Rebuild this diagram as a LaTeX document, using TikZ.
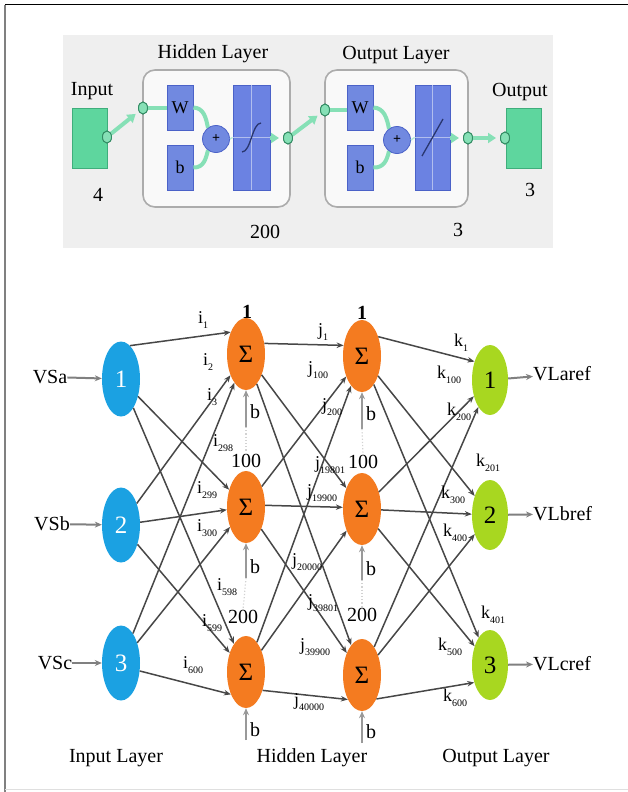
\documentclass[tikz,border=0pt]{standalone}
\usepackage{fontspec}
\setmainfont{Liberation Serif}
\usetikzlibrary{shapes.geometric,arrows.meta}
\definecolor{inblue}{HTML}{1BA1E2}
\definecolor{horange}{HTML}{F47B20}
\definecolor{ogreen}{HTML}{A8D720}
\definecolor{panelgrey}{HTML}{EFEFEF}
\definecolor{gfill}{HTML}{5ED69E}
\definecolor{gdark}{HTML}{3FAE7C}
\definecolor{gline}{HTML}{86E0B6}
\definecolor{bfill}{HTML}{7189E0}
\definecolor{bdark}{HTML}{4B62C8}
\definecolor{cgray}{HTML}{474747}
\newcommand{\fsz}[1]{\fontsize{#1}{#1}\selectfont}
\newcommand{\sbs}[2]{#1\raisebox{-0.55ex}{\fsz{10}#2}}
\begin{document}
\begin{tikzpicture}[x=1pt,y=-1pt,
 lbl/.style={font=\fsz{20}, inner sep=0},
 sl/.style={font=\fsz{18}, inner sep=0},
 inn/.style={ellipse, fill=inblue, minimum width=38pt, minimum height=75pt, inner sep=0, text=white, font=\fsz{25}},
 hid/.style={ellipse, fill=horange, minimum width=38pt, minimum height=72pt, inner sep=0, font=\fsz{25}},
 outn/.style={ellipse, fill=ogreen, minimum width=36pt, minimum height=70pt, inner sep=0, font=\fsz{25}},
 conn/.style={draw=cgray, line width=1.5pt, -{Stealth[length=7pt,width=5.5pt]}},
 feed/.style={draw=gray, line width=2pt, -{Stealth[length=7pt,width=6pt]}},
 bias/.style={draw=gray!80, line width=2pt, -{Stealth[length=7pt,width=6pt]}},
 dots/.style={draw=gray!35, line width=1.2pt, dotted},
 gbox/.style={draw=gdark, fill=gfill, line width=1pt, minimum width=35pt, minimum height=60pt, inner sep=0},
 bbox/.style={draw=bdark, fill=bfill, line width=0.8pt, minimum width=26pt, minimum height=45pt, inner sep=0, font=\fsz{18}},
 tbox/.style={draw=bdark, fill=bfill!95!blue, line width=0.8pt, minimum width=37pt, minimum height=105pt, inner sep=0},
 plusn/.style={circle, draw=bdark, fill=bfill, line width=0.8pt, minimum size=27pt, inner sep=0, font=\fsz{14}\bfseries},
 port/.style={ellipse, draw=gdark!80!black, fill=gline, line width=0.9pt, minimum width=9pt, minimum height=12pt, inner sep=0},
 gl/.style={draw=gline, line width=4pt},
 gla/.style={draw=gline, line width=4pt, -{Triangle[length=8pt,width=10pt]}, shorten >=4pt}
]
\useasboundingbox (0,0) rectangle (628,792);
% outer frame
\draw[gray, line width=1.5pt] (5,792) -- (5,5);
\draw[black, line width=1pt] (5,4.5) -- (628,4.5);
\draw[gray!25, line width=1pt] (5,789.5) -- (628,789.5);
% ---------- top panel ----------
\fill[panelgrey] (63,35) rectangle (553,248);
\draw[rounded corners=12pt, draw=gray!65, line width=1.6pt, fill=white!60!panelgrey] (143,70) rectangle (290,207);
\draw[rounded corners=12pt, draw=gray!65, line width=1.6pt, fill=white!60!panelgrey] (325,70) rectangle (468,207);
\node[lbl] (tin) at (92,91) {Input};
\node[lbl] (thl) at (213,54) {Hidden Layer};
\node[lbl] (tol) at (396,55) {Output Layer};
\node[lbl] (tout) at (520,92) {Output};
\node[lbl] (t4) at (98,195) {4};
\node[lbl] (t3a) at (530,190) {3};
\node[lbl] (t200) at (265,232) {200};
\node[lbl] (t3b) at (458,230) {3};
\node[gbox] (inbox) at (89.5,138) {};
\node[gbox] (outbox) at (523.5,138) {};
% hidden layer block
\node[bbox] (w1) at (180,107.5) {W};
\node[bbox] (b1) at (180,167.5) {b};
\node[tbox] (tf1) at (251.5,137.5) {};
\draw[bfill!55!white, line width=0.5pt] (tf1.west) -- (tf1.east) (tf1.north) -- (tf1.south);
\draw[bdark!55!black, line width=1.3pt] (242,152) .. controls (251,152) and (252,123) .. (261,123);
% output layer block
\node[bbox] (w2) at (360,107.5) {W};
\node[bbox] (b2) at (360,167.5) {b};
\node[tbox, minimum width=35pt] (tf2) at (432.5,137.5) {};
\draw[bfill!55!white, line width=0.5pt] (tf2.west) -- (tf2.east) (tf2.north) -- (tf2.south);
\draw[bdark!55!black, line width=1.3pt] (422,156) -- (443,119);
% green connectors
\coordinate (pc1) at (216,139);
\coordinate (pc2) at (397,140);
\draw[gl] (w1.east) .. controls (204,108) and (206,118) .. (208,128);
\draw[gl] (b1.east) .. controls (204,168) and (206,158) .. (208,150);
\draw[gl] (w2.east) .. controls (384,108) and (387,118) .. (389,129);
\draw[gl] (b2.east) .. controls (384,168) and (387,160) .. (389,151);
\node[plusn] (plus1) at (pc1) {+};
\node[plusn] (plus2) at (pc2) {+};
\draw[gline!60!white, line width=1.5pt] (plus1.east) -- (tf1.west);
\draw[gline!60!white, line width=1.5pt] (plus2.east) -- (tf2.west);
\node[port] (pin0) at (107,137) {};
\node[port] (phi) at (143,108) {};
\node[port] (pho) at (288,138) {};
\node[port] (poi) at (325,110) {};
\node[port] (poo) at (468,138) {};
\node[port] (pout) at (505,138) {};
\draw[gla] (pin0) -- (phi);
\draw[gl] (phi) -- (w1.west |- phi);
\draw[gla] (tf1.east |- pho) -- (pho);
\draw[gla] (pho) -- (poi);
\draw[gl] (poi) -- (w2.west |- poi);
\draw[gla] (tf2.east |- poo) -- (poo);
\draw[gla] (poo) -- (pout);
\node[port] at (107,137) {};
\node[port] at (143,108) {};
\node[port] at (288,138) {};
\node[port] at (325,110) {};
\node[port] at (468,138) {};
\node[port] at (505,138) {};
% ---------- bottom network ----------
\node[inn] (in1) at (121,379) {1};
\node[inn] (in2) at (121,525) {2};
\node[inn] (in3) at (121,663) {3};
\node[hid] (h1) at (246,354) {Σ};
\node[hid] (h2) at (246,507) {Σ};
\node[hid] (h3) at (246,672) {Σ};
\node[hid] (g1) at (362,356) {Σ};
\node[hid] (g2) at (362,509) {Σ};
\node[hid] (g3) at (362,675) {Σ};
\node[outn] (o1) at (490,380) {1};
\node[outn] (o2) at (490,515) {2};
\node[outn] (o3) at (490,665) {3};
% inputs / outputs
\node[lbl] (vsa) at (50,377) {VSa};
\node[lbl] (vsb) at (52,524) {VSb};
\node[lbl] (vsc) at (55,663) {VSc};
\node[lbl, anchor=west] (vla) at (533,374) {VLaref};
\node[lbl, anchor=west] (vlb) at (533,514) {VLbref};
\node[lbl, anchor=west] (vlc) at (533,664) {VLcref};
\draw[feed] (vsa) -- (in1);
\draw[feed] (vsb) -- (in2);
\draw[feed] (vsc) -- (in3);
\draw[feed] (o1) -- (vla);
\draw[feed] (o2) -- (vlb);
\draw[feed] (o3) -- (vlc);
% input -> hidden
\draw[conn] (in1.75) -- (h1.125);
\draw[conn] (in2) -- (h1);
\draw[conn] (in3) -- (h1);
\draw[conn] (in1) -- (h2);
\draw[conn] (in2) -- (h2);
\draw[conn] (in3) -- (h2);
\draw[conn] (in1) -- (h3);
\draw[conn] (in2) -- (h3);
\draw[conn] (in3.337) -- (h3.236);
% hidden -> hidden
\draw[conn] (h1.30) -- (g1.150);
\draw[conn] (h2) -- (g1);
\draw[conn] (h3) -- (g1);
\draw[conn] (h1) -- (g2);
\draw[conn] (h2.5) -- (g2.175);
\draw[conn] (h3) -- (g2);
\draw[conn] (h1) -- (g3);
\draw[conn] (h2) -- (g3);
\draw[conn] (h3.312) -- (g3.240);
% hidden -> output
\draw[conn] (g1.50) -- (o1.130);
\draw[conn] (g2) -- (o1);
\draw[conn] (g3) -- (o1);
\draw[conn] (g1) -- (o2);
\draw[conn] (g2) -- (o2);
\draw[conn] (g3) -- (o2);
\draw[conn] (g1) -- (o3);
\draw[conn] (g2) -- (o3);
\draw[conn] (g3.301) -- (o3.228);
% neuron index labels
\node[lbl, font=\fsz{20}\bfseries] (n1a) at (247,312) {1};
\node[lbl] (n100a) at (246,461) {100};
\node[lbl] (n200a) at (243,617) {200};
\node[lbl, font=\fsz{20}\bfseries] (n1b) at (362,313) {1};
\node[lbl] (n100b) at (363,462) {100};
\node[lbl] (n200b) at (362,615) {200};
% biases
\coordinate (bt1) at (246,427);
\coordinate (bt2) at (246,578);
\coordinate (bt3) at (246,740);
\coordinate (bt4) at (362,429);
\coordinate (bt5) at (362,580);
\coordinate (bt6) at (362,743);
\draw[bias] (bt1) -- (h1.south);
\draw[bias] (bt2) -- (h2.south);
\draw[bias] (bt3) -- (h3.south);
\draw[bias] (bt4) -- (g1.south);
\draw[bias] (bt5) -- (g2.south);
\draw[bias] (bt6) -- (g3.south);
\draw[dots] (bt1) -- (n100a.north);
\draw[dots] (bt2) -- (n200a.north);
\draw[dots] (bt4) -- (n100b.north);
\draw[dots] (bt5) -- (n200b.north);
\node[lbl] (bl1) at (255,412) {b};
\node[lbl] (bl2) at (255,567) {b};
\node[lbl] (bl3) at (255,730) {b};
\node[lbl] (bl4) at (371,414) {b};
\node[lbl] (bl5) at (371,569) {b};
\node[lbl] (bl6) at (371,732) {b};
% weight labels
\node[sl] (li1) at (203,320) {\sbs{i}{1}};
\node[sl] (li2) at (208,362) {\sbs{i}{2}};
\node[sl] (li3) at (212,397) {\sbs{i}{3}};
\node[sl] (li298) at (223,443) {\sbs{i}{298}};
\node[sl] (li299) at (207,490) {\sbs{i}{299}};
\node[sl] (li300) at (207,528) {\sbs{i}{300}};
\node[sl] (li598) at (227,587) {\sbs{i}{598}};
\node[sl] (li599) at (212,623) {\sbs{i}{599}};
\node[sl] (li600) at (193,665) {\sbs{i}{600}};
\node[sl] (lj1) at (323,332) {\sbs{j}{1}};
\node[sl] (lj100) at (318,370) {\sbs{j}{100}};
\node[sl] (lj200) at (332,407) {\sbs{j}{200}};
\node[sl] (lj19801) at (330,465) {\sbs{j}{19801}};
\node[sl] (lj19900) at (322,493) {\sbs{j}{19900}};
\node[sl] (lj20000) at (307,562) {\sbs{j}{20000}};
\node[sl] (lj39801) at (323,603) {\sbs{j}{39801}};
\node[sl] (lj39900) at (315,647) {\sbs{j}{39900}};
\node[sl] (lj40000) at (309,702) {\sbs{j}{40000}};
\node[sl] (lk1) at (461,343) {\sbs{k}{1}};
\node[sl] (lk100) at (449,375) {\sbs{k}{100}};
\node[sl] (lk200) at (459,412) {\sbs{k}{200}};
\node[sl] (lk201) at (488,463) {\sbs{k}{201}};
\node[sl] (lk300) at (453,495) {\sbs{k}{300}};
\node[sl] (lk400) at (455,533) {\sbs{k}{400}};
\node[sl] (lk401) at (493,615) {\sbs{k}{401}};
\node[sl] (lk500) at (450,647) {\sbs{k}{500}};
\node[sl] (lk600) at (455,698) {\sbs{k}{600}};
% layer titles
\node[lbl] (til) at (116,758) {Input Layer};
\node[lbl] (thl2) at (312,758) {Hidden Layer};
\node[lbl] (tol2) at (496,758) {Output Layer};
\end{tikzpicture}
\end{document}
